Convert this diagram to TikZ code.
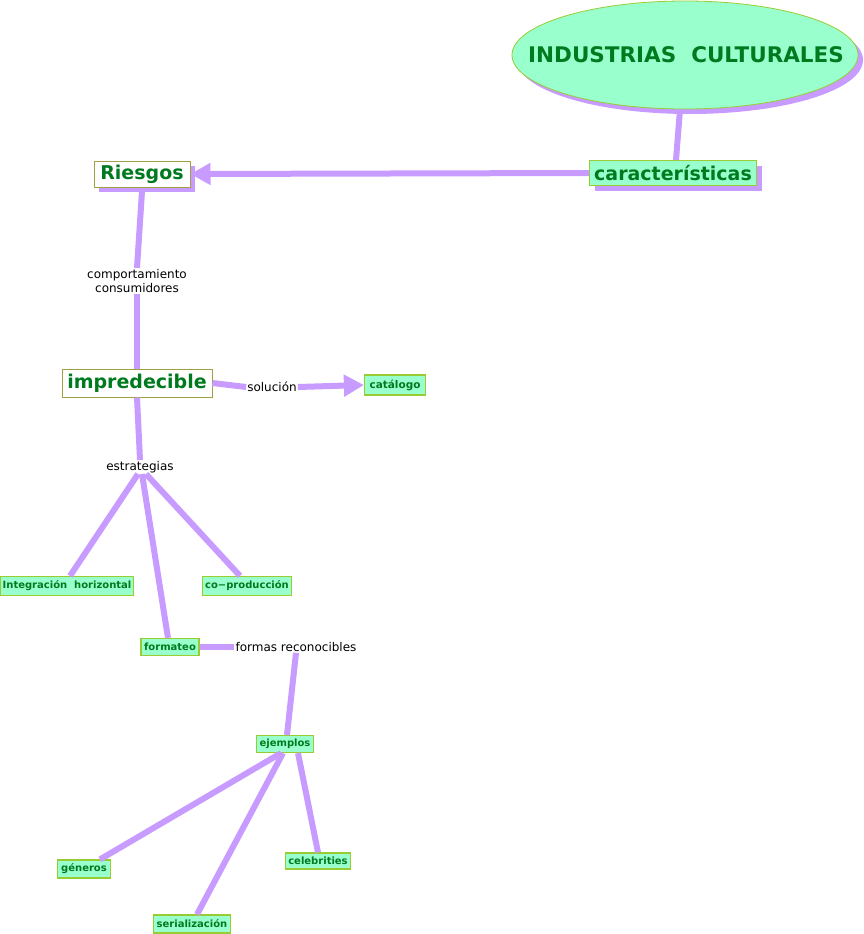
\documentclass[tikz,border=0pt]{standalone}
\usepackage{fontspec}
\setmainfont{DejaVu Sans}
\usetikzlibrary{shapes.geometric,arrows.meta,shadows}
\definecolor{lila}{HTML}{C79BFF}
\definecolor{mint}{HTML}{99FFCC}
\definecolor{dgreen}{HTML}{007A1E}
\definecolor{bord}{HTML}{99CC33}
\definecolor{olivebord}{HTML}{A0A040}
\tikzset{
  conn/.style={draw=lila, line width=6pt},
  bigtip/.style={-{Triangle[length=20pt,width=21pt]}},
  lshadow/.style={drop shadow={shadow xshift=5pt, shadow yshift=-5pt, fill=lila, opacity=1}},
  mainbox/.style={draw=olivebord, line width=1pt, fill=white, text=dgreen, inner sep=0pt, font=\fontsize{19}{22}\selectfont\bfseries},
  smallbox/.style={draw=bord, line width=1.2pt, fill=mint, text=dgreen, inner sep=0pt, font=\fontsize{10}{12}\selectfont\bfseries},
  lbl/.style={text=black, inner sep=1pt, align=center, font=\fontsize{12}{14.5}\selectfont},
}
\begin{document}
\begin{tikzpicture}[x=1pt,y=1pt]
\useasboundingbox (0,0) rectangle (863,-934);
% nodes
\node[ellipse, draw=bord, line width=0.8pt, fill=mint, lshadow, minimum width=346pt, minimum height=108pt, inner sep=0pt] (ic) at (685,-55) {};
\node[text=dgreen, font=\fontsize{21.5}{24}\selectfont\bfseries] (ict) at (686,-55) {INDUSTRIAS\ \ CULTURALES};
\node[mainbox, draw=bord, fill=mint, lshadow, minimum width=167pt, minimum height=25pt] (car) at (673,-173) {características};
\node[mainbox, lshadow, minimum width=96pt, minimum height=26pt] (ries) at (142,-174) {Riesgos};
\node[lbl] (comp) at (137,-281) {comportamiento\\consumidores};
\node[mainbox, font=\fontsize{19}{22}\selectfont\bfseries, minimum width=150pt, minimum height=28pt] (imp) at (137,-383) {impredecible};
\node[lbl] (sol) at (272,-387) {solución};
\node[smallbox, font=\fontsize{10.5}{12}\selectfont\bfseries, minimum width=61pt, minimum height=20pt] (cat) at (395,-385) {catálogo};
\node[lbl] (est) at (140,-467) {estrategias};
\node[smallbox, minimum width=133pt, minimum height=19pt] (ih) at (67,-586) {Integración\ \ horizontal};
\node[smallbox, minimum width=89pt, minimum height=19pt] (cop) at (247,-586) {co−producción};
\node[smallbox, minimum width=58pt, minimum height=17pt] (fmt) at (170,-647) {formateo};
\node[lbl] (fr) at (296,-647) {formas reconocibles};
\node[smallbox, minimum width=57pt, minimum height=17pt] (ej) at (285,-744) {ejemplos};
\node[smallbox, minimum width=53pt, minimum height=18pt] (gen) at (84,-869) {géneros};
\node[smallbox, minimum width=77pt, minimum height=18pt] (ser) at (192,-924) {serialización};
\node[smallbox, minimum width=65pt, minimum height=16pt] (cel) at (318,-861) {celebrities};
% connectors
\draw[conn] ([xshift=-5pt]ic.south) -- ([xshift=3pt]car.north);
\draw[conn, bigtip] (car.west) -- (ries.east);
\draw[conn] ([yshift=-4pt]ries.south) -- (comp.north);
\draw[conn] (comp.south) -- (imp.north);
\draw[conn] (imp.east) -- (sol.west);
\draw[conn, bigtip] (sol.east) -- (cat.west);
\draw[conn] (imp.south) -- (est.north);
\draw[conn] ([xshift=-2pt]est.south) -- ([xshift=3pt]ih.north);
\draw[conn] ([xshift=2pt]est.south) -- ([xshift=-2pt]fmt.north);
\draw[conn] ([xshift=6pt]est.south) -- ([xshift=-7pt]cop.north);
\draw[conn] (fmt.east) -- (fr.west);
\draw[conn] (fr.south) -- ([xshift=2pt]ej.north);
\draw[conn] ([xshift=-4pt]ej.south) -- ([xshift=16pt]gen.north);
\draw[conn] ([xshift=-2pt]ej.south) -- ([xshift=5pt]ser.north);
\draw[conn] ([xshift=13pt]ej.south) -- (cel.north);
\end{tikzpicture}
\end{document}
